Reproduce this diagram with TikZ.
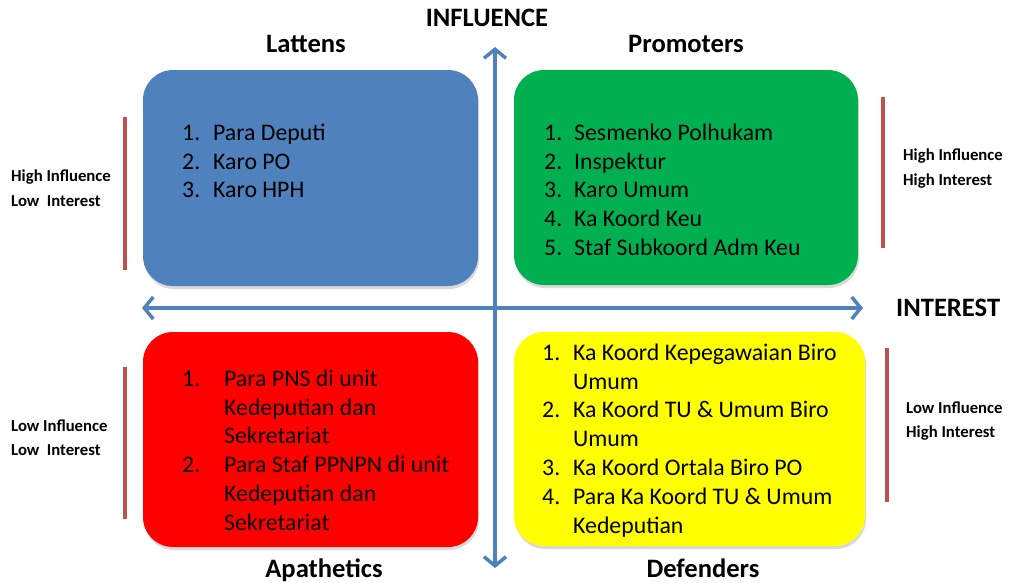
\documentclass[tikz,border=0pt]{standalone}
\usepackage{fontspec}
\setmainfont{Carlito}
\usepackage{xcolor}
\usetikzlibrary{shapes,arrows.meta,positioning,calc,shadows}

\definecolor{axisblue}{RGB}{79,129,189}
\definecolor{barred}{RGB}{192,80,77}
\definecolor{boxblue}{RGB}{79,129,189}
\definecolor{boxgreen}{RGB}{0,176,80}
\definecolor{boxred}{RGB}{255,0,0}
\definecolor{boxyellow}{RGB}{255,255,0}

\begin{document}
\begin{tikzpicture}[x=1pt,y=-1pt,
  quad/.style={rounded corners=30pt, inner sep=0pt,
    drop shadow={opacity=0.3, shadow xshift=1pt, shadow yshift=-3pt}},
  listtext/.style={anchor=north west, inner sep=0pt, font=\fontsize{23.8}{28.8}\selectfont},
  title/.style={inner sep=0pt, font=\bfseries\fontsize{26.6}{30}\selectfont},
  side/.style={anchor=west, inner sep=0pt, align=left, font=\bfseries\fontsize{16.7}{24.5}\selectfont},
  axis/.style={line width=3.5pt, axisblue,
    {Straight Barb[length=9pt,width=22pt]}-{Straight Barb[length=9pt,width=22pt]}},
  bar/.style={line width=3.5pt, barred}]
\useasboundingbox (0,0) rectangle (1013,582);
% Quadrants
\node[quad, fill=boxblue, minimum width=335pt, minimum height=216pt] (lattensbox) at (310.5,178) {};
\node[quad, fill=boxgreen, minimum width=344pt, minimum height=215pt] (promotersbox) at (686,177.5) {};
\node[quad, fill=boxred, minimum width=335pt, minimum height=215pt] (apatheticsbox) at (310.5,439.5) {};
\node[quad, fill=boxyellow, minimum width=351pt, minimum height=214pt] (defendersbox) at (689.5,439) {};
% Lists
\node[listtext] (lattenslist) at (182,120) {\begin{tabular}{@{}p{31pt}@{}l@{}}
  1. & Para Deputi\\ 2. & Karo PO\\ 3. & Karo HPH
\end{tabular}};
\node[listtext] (promoterslist) at (544,120) {\begin{tabular}{@{}p{30pt}@{}l@{}}
  1. & Sesmenko Polhukam\\ 2. & Inspektur\\ 3. & Karo Umum\\
  4. & Ka Koord Keu\\ 5. & Staf Subkoord Adm Keu
\end{tabular}};
\node[listtext] (apatheticslist) at (182,366) {\begin{tabular}{@{}p{42pt}@{}l@{}}
  1. & Para PNS di unit\\ & Kedeputian dan\\ & Sekretariat\\
  2. & Para Staf PPNPN di unit\\ & Kedeputian dan\\ & Sekretariat
\end{tabular}};
\node[listtext] (defenderslist) at (542,340) {\begin{tabular}{@{}p{31pt}@{}l@{}}
  1. & Ka Koord Kepegawaian Biro\\ & Umum\\
  2. & Ka Koord TU \& Umum Biro\\ & Umum\\
  3. & Ka Koord Ortala Biro PO\\
  4. & Para Ka Koord TU \& Umum\\ & Kedeputian
\end{tabular}};
% Axes
\coordinate (ytop) at (495,47);
\coordinate (ybot) at (495,568);
\coordinate (xleft) at (142,308);
\coordinate (xright) at (863,308);
\draw[axis] (ybot) -- (ytop);
\draw[axis] (xleft) -- (xright);
% Titles
\node[title] (influence) at (487,18) {INFLUENCE};
\node[title, anchor=west] (interest) at (896,308) {INTEREST};
\node[title] (lattens) at (306,44) {Lattens};
\node[title] (promoters) at (686,44) {Promoters};
\node[title, anchor=base] (apathetics) at (324,577) {Apathetics};
\node[title, anchor=base] (defenders) at (703,577) {Defenders};
% Side marks
\foreach \n/\x/\ya/\yb in {hl/125/117/270, hh/883/97/248, ll/125/367/519, lh/887/348/502}{
  \coordinate (\n top) at (\x,\ya);
  \coordinate (\n bot) at (\x,\yb);
  \draw[bar] (\n top) -- (\n bot);
}
\node[side] (hlnote) at (11,188) {High Influence\\Low\ \ Interest};
\node[side] (hhnote) at (903,168.5) {High Influence\\High Interest};
\node[side] (llnote) at (11,437.5) {Low Influence\\Low\ \ Interest};
\node[side] (lhnote) at (906,421) {Low Influence\\High Interest};
\end{tikzpicture}
\end{document}
